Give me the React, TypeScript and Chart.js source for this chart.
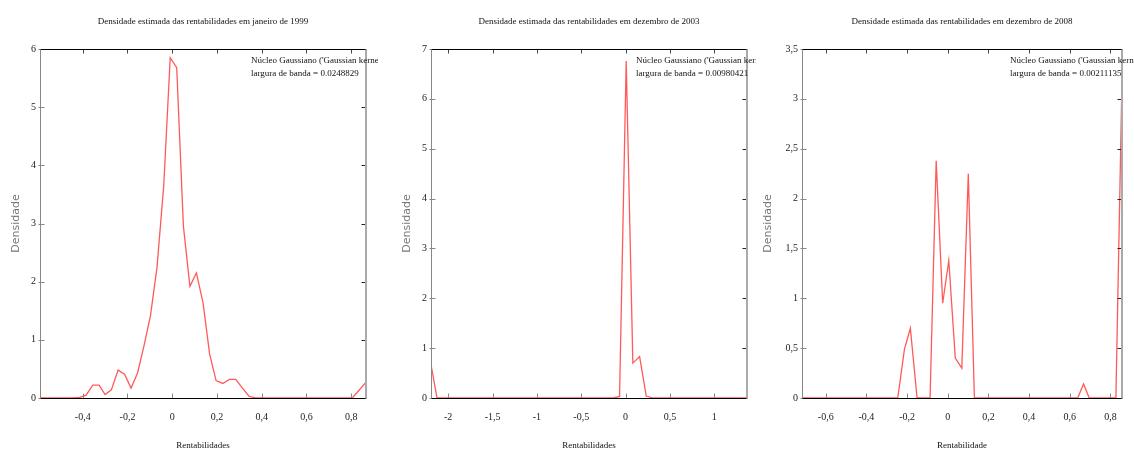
import { useEffect, useRef } from "react";
import { Chart, registerables } from "chart.js";

Chart.register(...registerables);

const SERIF = "'Liberation Serif', 'Times New Roman', serif";
const SANS = "'DejaVu Sans', sans-serif";

const densityLabel = "Densidade";
const kernelLabel = "Núcleo Gaussiano ('Gaussian kernel')";
const bandwidthPrefix = "largura de banda = ";

// Panel 1: janeiro de 1999
const jan1999Title = "Densidade estimada das rentabilidades em janeiro de 1999";
const jan1999XLabel = "Rentabilidades";
const jan1999Bandwidth = "0.0248829";
const jan1999XRange = [-0.591, 0.866];
const jan1999YMax = 6;
const jan1999XStep = 0.2;
const jan1999YStep = 1;
const jan1999Returns = [
  -0.591, -0.443, -0.414, -0.385, -0.355, -0.327, -0.3, -0.272, -0.242, -0.213, -0.184,
  -0.155, -0.126, -0.097, -0.068, -0.038, -0.009, 0.02, 0.05, 0.079, 0.108, 0.138,
  0.167, 0.196, 0.226, 0.255, 0.284, 0.314, 0.343, 0.372, 0.78, 0.805, 0.866,
];
const jan1999Density = [
  0, 0, 0.01, 0.05, 0.22, 0.22, 0.06, 0.14, 0.48, 0.41, 0.17,
  0.43, 0.9, 1.42, 2.25, 3.65, 5.85, 5.68, 2.95, 1.92, 2.15, 1.63,
  0.76, 0.3, 0.25, 0.32, 0.32, 0.17, 0.03, 0, 0, 0, 0.27,
];

// Panel 2: dezembro de 2003
const dez2003Title = "Densidade estimada das rentabilidades em dezembro de 2003";
const dez2003XLabel = "Rentabilidades";
const dez2003Bandwidth = "0.00980421";
const dez2003XRange = [-2.194, 1.369];
const dez2003YMax = 7;
const dez2003XStep = 0.5;
const dez2003YStep = 1;
const dez2003Returns = [-2.194, -2.126, -0.14, -0.068, 0.007, 0.082, 0.158, 0.233, 0.308, 1.369];
const dez2003Density = [0.67, 0, 0, 0.03, 6.76, 0.7, 0.83, 0.04, 0, 0];

// Panel 3: dezembro de 2008
const dez2008Title = "Densidade estimada das rentabilidades em dezembro de 2008";
const dez2008XLabel = "Rentabilidade";
const dez2008Bandwidth = "0.00211135";
const dez2008XRange = [-0.717, 0.857];
const dez2008YMax = 3.5;
const dez2008XStep = 0.2;
const dez2008YStep = 0.5;
const dez2008Returns = [
  -0.717, -0.246, -0.213, -0.184, -0.151, -0.087, -0.057, -0.025, 0.005, 0.037, 0.069,
  0.101, 0.131, 0.639, 0.668, 0.696, 0.827, 0.858,
];
const dez2008Density = [
  0, 0, 0.49, 0.7, 0, 0, 2.38, 0.95, 1.38, 0.4, 0.3,
  2.25, 0, 0, 0.14, 0, 0, 3.3,
];

const fmt = (v: any) => {
  const n = Math.round(Number(v) * 1000) / 1000;
  return String(n).replace(".", ",");
};

const framePlugin = {
  id: "gnuplotFrame",
  afterDatasetsDraw(chart: any, _args: any, opts: any) {
    const { ctx, chartArea: a, scales } = chart;
    const xs = scales.x;
    const ys = scales.y;
    const L = Math.round(a.left) + 0.5;
    const R = Math.round(a.right) - 0.5;
    const T = Math.round(a.top) + 0.5;
    const B = Math.round(a.bottom) + 0.5;
    ctx.save();
    const seg = (x1: number, y1: number, x2: number, y2: number, c: string, w = 1) => {
      ctx.strokeStyle = c;
      ctx.lineWidth = w;
      ctx.beginPath();
      ctx.moveTo(x1, y1);
      ctx.lineTo(x2, y2);
      ctx.stroke();
    };
    xs.ticks.forEach((t: any) => {
      const px = Math.round(xs.getPixelForValue(t.value)) + 0.5;
      seg(px, B, px, B - 5, "#888");
      seg(px, T, px, T + 4, "#444");
    });
    ys.ticks.forEach((t: any) => {
      const py = Math.round(ys.getPixelForValue(t.value)) + 0.5;
      seg(L - 2, py, L + 4, py, "#888");
      seg(R - 4, py, R, py, "#222");
    });
    seg(L, T, R + 1, T, "#000");
    seg(L, B, R + 1, B, "#000");
    seg(L, T, L, B, "#888");
    seg(R + 0.5, T, R + 0.5, B, "#aaa", 2);
    ctx.fillStyle = "#111";
    ctx.font = `9px ${SERIF}`;
    ctx.textBaseline = "middle";
    ctx.textAlign = "left";
    (opts.lines || []).forEach((l: string, i: number) => {
      ctx.fillText(l, a.left + opts.x, a.top + 12 + i * 13);
    });
    ctx.restore();
  },
};

type Panel = {
  title: string;
  xLabel: string;
  bandwidth: string;
  xs: number[];
  ys: number[];
  xRange: number[];
  yMax: number;
  xStep: number;
  yStep: number;
  left: number;
  yAxisWidth: number;
  rightPad: number;
  yTitlePad: number;
  noteX: number;
};

const panels: Panel[] = [
  {
    title: jan1999Title, xLabel: jan1999XLabel, bandwidth: jan1999Bandwidth,
    xs: jan1999Returns, ys: jan1999Density, xRange: jan1999XRange, yMax: jan1999YMax,
    xStep: jan1999XStep, yStep: jan1999YStep,
    left: 0, yAxisWidth: 40, rightPad: 12, yTitlePad: 9.7, noteX: 211,
  },
  {
    title: dez2003Title, xLabel: dez2003XLabel, bandwidth: dez2003Bandwidth,
    xs: dez2003Returns, ys: dez2003Density, xRange: dez2003XRange, yMax: dez2003YMax,
    xStep: dez2003XStep, yStep: dez2003YStep,
    left: 378, yAxisWidth: 53, rightPad: 9, yTitlePad: 23, noteX: 205,
  },
  {
    title: dez2008Title, xLabel: dez2008XLabel, bandwidth: dez2008Bandwidth,
    xs: dez2008Returns, ys: dez2008Density, xRange: dez2008XRange, yMax: dez2008YMax,
    xStep: dez2008XStep, yStep: dez2008YStep,
    left: 756, yAxisWidth: 46, rightPad: 12, yTitlePad: 5.4, noteX: 208,
  },
];

function DensityPanel({ p }: { p: Panel }) {
  const ref = useRef<HTMLCanvasElement | null>(null);
  useEffect(() => {
    if (!ref.current) return;
    const chart = new Chart(ref.current, {
      type: "line",
      data: {
        datasets: [
          {
            data: p.xs.map((x, i) => ({ x, y: p.ys[i] })),
            borderColor: "#ff5a5a",
            borderWidth: 1.3,
            pointRadius: 0,
            tension: 0,
            fill: false,
          },
        ],
      },
      options: {
        animation: false,
        responsive: false,
        events: [],
        layout: { padding: { left: 0, right: p.rightPad, top: 0, bottom: 0 } },
        plugins: {
          legend: { display: false },
          tooltip: { enabled: false },
          title: {
            display: true,
            text: p.title,
            fullSize: false,
            color: "#111",
            font: { family: SERIF, size: 9, weight: "normal" },
            padding: { top: 16.5, bottom: 21.7 },
          },
          gnuplotFrame: {
            lines: [kernelLabel, bandwidthPrefix + p.bandwidth],
            x: p.noteX,
          },
        } as any,
        scales: {
          x: {
            type: "linear",
            min: p.xRange[0],
            max: p.xRange[1],
            grid: { display: false, drawTicks: false },
            border: { display: false },
            ticks: {
              stepSize: p.xStep,
              includeBounds: false,
              autoSkip: false,
              maxRotation: 0,
              padding: 13,
              color: "#222",
              font: { family: SERIF, size: 10 },
              callback: fmt,
            },
            title: {
              display: true,
              text: p.xLabel,
              color: "#111",
              font: { family: SERIF, size: 9 },
              padding: { top: 0, bottom: -1 },
            },
            afterFit: (s: any) => {
              s.height = 52;
            },
          },
          y: {
            type: "linear",
            min: 0,
            max: p.yMax,
            grid: { display: false, drawTicks: false },
            border: { display: false },
            ticks: {
              stepSize: p.yStep,
              includeBounds: false,
              autoSkip: false,
              padding: 4,
              color: "#222",
              font: { family: SERIF, size: 10 },
              callback: fmt,
            },
            title: {
              display: true,
              text: densityLabel,
              color: "#777",
              font: { family: SANS, size: 11 },
              padding: { top: p.yTitlePad, bottom: 0 },
            },
            afterFit: (s: any) => {
              s.width = p.yAxisWidth;
            },
          },
        } as any,
      },
      plugins: [framePlugin],
    });
    return () => chart.destroy();
  }, [p]);
  return (
    <canvas
      ref={ref}
      width={378}
      height={450}
      style={{ position: "absolute", left: p.left, top: 0, width: 378, height: 450 }}
    />
  );
}

export default function App() {
  return (
    <div
      style={{
        position: "fixed",
        left: 0,
        top: 0,
        width: 1134,
        height: 450,
        background: "#fff",
        overflow: "hidden",
      }}
    >
      {panels.map((p, i) => (
        <DensityPanel key={i} p={p} />
      ))}
    </div>
  );
}
